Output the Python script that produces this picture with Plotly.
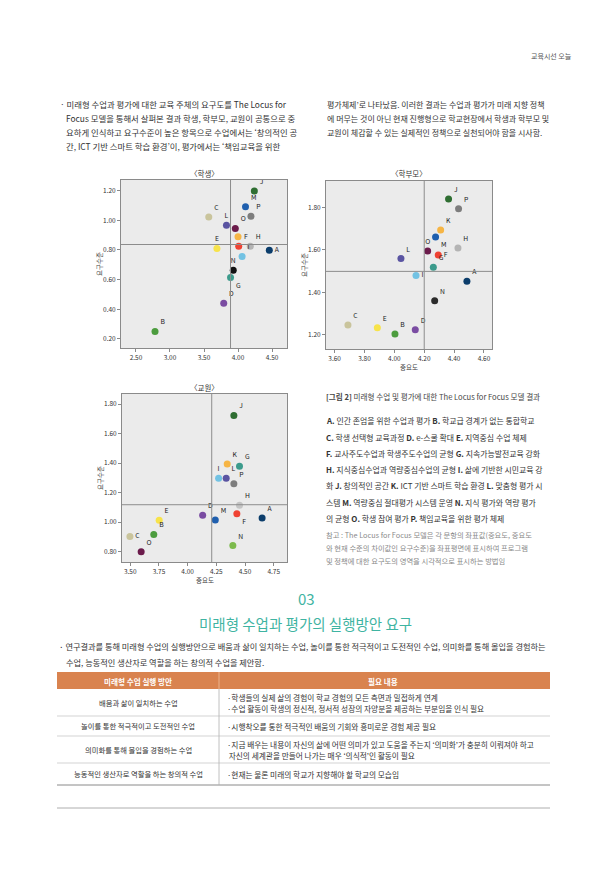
import plotly.graph_objects as go

W, H = 608, 869
FONT = "Noto Sans CJK KR"

# ---------------- data ----------------
labels_s = ["J", "M", "P", "C", "L", "O", "K", "F", "H", "E", "A", "I", "N", "G", "D", "B"]
x_s = [4.24, 4.11, 4.19, 3.57, 3.83, 3.96, 4.00, 4.01, 4.18, 3.69, 4.46, 4.06, 3.93, 3.89, 3.79, 2.78]
y_s = [1.198, 1.092, 1.027, 1.022, 0.966, 0.945, 0.889, 0.826, 0.826, 0.810, 0.799, 0.756, 0.664, 0.614, 0.441, 0.250]
text_s = ["J", "M", "P", "C", "L", "O", "", "F", "H", "E", "A", "I", "N", "G", "D", "B"]
pos_s = ["top right", "top right", "top right", "top right", "top center", "top right", "top right",
         "top right", "top right", "top center", "middle right", "top right", "top center",
         "bottom right", "top right", "top right"]
col_s = ["#2f6e32", "#1f5fae", "#7d7d7d", "#c9c49c", "#5a54a2", "#6b1b4b", "#f6b545", "#ef4233",
         "#b4b4b4", "#f7e34a", "#0b3d6b", "#72c2e3", "#111111", "#3c9b8c", "#7a4ca2", "#4c9c3e"]

labels_p = ["J", "P", "K", "M", "O", "F", "H", "L", "G", "I", "A", "N", "C", "E", "D", "B"]
x_p = [4.363, 4.430, 4.310, 4.276, 4.223, 4.294, 4.426, 4.044, 4.261, 4.145, 4.486, 4.270, 3.689, 3.886, 4.140, 4.004]
y_p = [1.839, 1.794, 1.693, 1.661, 1.595, 1.576, 1.609, 1.559, 1.519, 1.480, 1.452, 1.361, 1.247, 1.234, 1.225, 1.205]
pos_p = ["top right", "top right", "top right", "bottom right", "top center", "middle right", "top right",
         "top right", "top right", "middle right", "top right", "top right", "top right", "top right",
         "top right", "top right"]
col_p = ["#2f6e32", "#7d7d7d", "#f6b545", "#1f5fae", "#6b1b4b", "#ef4233", "#b4b4b4", "#5a54a2",
         "#3c9b8c", "#72c2e3", "#0b3d6b", "#2b2b2b", "#c9c49c", "#f7e34a", "#7a4ca2", "#4c9c3e"]

labels_t = ["J", "K", "G", "I", "L", "P", "H", "D", "F", "M", "A", "E", "B", "C", "N", "O"]
x_t = [4.403, 4.345, 4.452, 4.270, 4.336, 4.403, 4.452, 4.131, 4.429, 4.241, 4.649, 3.752, 3.705, 3.497, 4.394, 3.595]
y_t = [1.723, 1.394, 1.378, 1.297, 1.297, 1.260, 1.114, 1.046, 1.057, 1.014, 1.028, 1.012, 0.917, 0.902, 0.841, 0.800]
pos_t = ["top right", "top right", "top right", "top center", "top right", "top right", "top right",
         "top right", "bottom right", "top right", "top right", "top right", "top right", "middle right",
         "top right", "top right"]
col_t = ["#2f6e32", "#f6b545", "#3c9b8c", "#72c2e3", "#5a54a2", "#7d7d7d", "#c4c4c4", "#7a4ca2",
         "#ef4233", "#1f5fae", "#0b3d6b", "#f7e34a", "#4c9c3e", "#c9c49c", "#7cba4c", "#6b1b4b"]

chart_titles = ["〈학생〉", "〈학부모〉", "〈교원〉"]
ref_x = [3.89, 4.20, 4.21]
ref_y = [0.837, 1.499, 1.118]
x_ticks_s = [2.5, 3.0, 3.5, 4.0, 4.5]
y_ticks_s = [0.2, 0.4, 0.6, 0.8, 1.0, 1.2]
x_ticks_p = [3.6, 3.8, 4.0, 4.2, 4.4, 4.6]
y_ticks_p = [1.2, 1.4, 1.6, 1.8]
x_ticks_t = [3.5, 3.75, 4.0, 4.25, 4.5, 4.75]
y_ticks_t = [0.8, 1.0, 1.2, 1.4, 1.6, 1.8]
x_title = "중요도"
y_title = "요구수준"

header_text = "교육시선 오늘"
top_left_lines = [
    "· 미래형 수업과 평가에 대한 교육 주체의 요구도를 The Locus for",
    "Focus 모델을 통해서 살펴본 결과 학생, 학부모, 교원이 공통으로 중",
    "요하게 인식하고 요구수준이 높은 항목으로 수업에서는 ‘창의적인 공",
    "간, ICT 기반 스마트 학습 환경’이, 평가에서는 ‘책임교육을 위한",
]
top_right_lines = [
    "평가체제’로 나타났음. 이러한 결과는 수업과 평가가 미래 지향 정책",
    "에 머무는 것이 아닌 현재 진행형으로 학교현장에서 학생과 학부모 및",
    "교원이 체감할 수 있는 실제적인 정책으로 실천되어야 함을 시사함.",
]
caption = "<b>[그림 2]</b> 미래형 수업 및 평가에 대한 The Locus for Focus 모델 결과"
legend_lines = [
    "<b>A.</b> 인간 존엄을 위한 수업과 평가 <b>B.</b> 학교급 경계가 없는 통합학교",
    "<b>C.</b> 학생 선택형 교육과정 <b>D.</b> e-스쿨 확대 <b>E.</b> 지역중심 수업 체제",
    "<b>F.</b> 교사주도수업과 학생주도수업의 균형 <b>G.</b> 지속가능발전교육 강화",
    "<b>H.</b> 지식중심수업과 역량중심수업의 균형 <b>I.</b> 삶에 기반한 시민교육 강",
    "화 <b>J.</b> 창의적인 공간 <b>K.</b> ICT 기반 스마트 학습 환경 <b>L.</b> 맞춤형 평가 시",
    "스템 <b>M.</b> 역량중심 절대평가 시스템 운영 <b>N.</b> 지식 평가와 역량 평가",
    "의 균형 <b>O.</b> 학생 참여 평가 <b>P.</b> 책임교육을 위한 평가 체제",
]
note_lines = [
    "참고 : The Locus for Focus 모델은 각 문항의 좌표값(중요도, 중요도",
    "와 현재 수준의 차이값인 요구수준)을 좌표평면에 표시하여 프로그램",
    "및 정책에 대한 요구도의 영역을 시각적으로 표시하는 방법임",
]
section_no = "03"
section_title = "미래형 수업과 평가의 실행방안 요구"
intro_lines = [
    "· 연구결과를 통해 미래형 수업의 실행방안으로 배움과 삶이 일치하는 수업, 놀이를 통한 적극적이고 도전적인 수업, 의미화를 통해 몰입을 경험하는",
    "수업, 능동적인 생산자로 역할을 하는 창의적 수업을 제안함.",
]
table_header = ["미래형 수업 실행 방안", "필요 내용"]
table_left = [
    "배움과 삶이 일치하는 수업",
    "놀이를 통한 적극적이고 도전적인 수업",
    "의미화를 통해 몰입을 경험하는 수업",
    "능동적인 생산자로 역할을 하는 창의적 수업",
]
table_right = [
    ["·학생들의 실제 삶의 경험이 학교 경험의 모든 측면과 밀접하게 연계",
     "·수업 활동이 학생의 정신적, 정서적 성장의 자양분을 제공하는 부분임을 인식 필요"],
    ["·시행착오를 통한 적극적인 배움의 기회와 흥미로운 경험 제공 필요"],
    ["·지금 배우는 내용이 자신의 삶에 어떤 의미가 있고 도움을 주는지 ‘의미화’가 충분히 이뤄져야 하고",
     " 자신의 세계관을 만들어 나가는 매우 ‘의식적’인 활동이 필요"],
    ["·현재는 물론 미래의 학교가 지향해야 할 학교의 모습임"],
]

# ---------------- helpers ----------------
def px(x):
    return x / W


def py(y):
    return 1 - y / H


annotations = []
shapes = []


def txt(x, y, s, size=7.5, color="#333333", xanchor="left", yanchor="middle", angle=0):
    annotations.append(dict(x=px(x), y=py(y), xref="paper", yref="paper", text=s, showarrow=False,
                            xanchor=xanchor, yanchor=yanchor, textangle=angle,
                            font=dict(size=size, color=color, family=FONT)))


def hline(x0, x1, y, color, width=1):
    shapes.append(dict(type="line", xref="paper", yref="paper", x0=px(x0), x1=px(x1), y0=py(y), y1=py(y),
                       line=dict(color=color, width=width)))


def vline(x, y0, y1, color, width=1):
    shapes.append(dict(type="line", xref="paper", yref="paper", x0=px(x), x1=px(x), y0=py(y0), y1=py(y1),
                       line=dict(color=color, width=width)))


fig = go.Figure()

charts = [
    dict(xs=x_s, ys=y_s, text=text_s, pos=pos_s, col=col_s, ax="", box=(121, 287, 180, 348),
         xr=[2.28, 4.72], yr=[0.139, 1.272], xt=x_ticks_s, yt=y_ticks_s, xtitle=False),
    dict(xs=x_p, ys=y_p, text=labels_p, pos=pos_p, col=col_p, ax="2", box=(326, 492, 181, 349),
         xr=[3.542, 4.654], yr=[1.134, 1.924], xt=x_ticks_p, yt=y_ticks_p, xtitle=True),
    dict(xs=x_t, ys=y_t, text=labels_t, pos=pos_t, col=col_t, ax="3", box=(122, 287, 394, 562),
         xr=[3.428, 4.866], yr=[0.730, 1.868], xt=x_ticks_t, yt=y_ticks_t, xtitle=True),
]

layout_axes = {}
for i, c in enumerate(charts):
    a = c["ax"]
    fig.add_trace(go.Scatter(
        x=c["xs"], y=c["ys"], mode="markers+text", text=c["text"], textposition=c["pos"],
        textfont=dict(size=6.8, color="#222222", family=FONT),
        marker=dict(size=7, color=c["col"], line=dict(width=0)),
        xaxis="x" + a, yaxis="y" + a, cliponaxis=False, showlegend=False, hoverinfo="skip"))
    l, r, t, b = c["box"]
    common = dict(showline=True, mirror=True, linecolor="#8a8a8a", linewidth=1, ticks="outside",
                  ticklen=3, tickcolor="#8a8a8a", tickfont=dict(size=6.5, color="#333333", family=FONT),
                  showgrid=False, zeroline=False, tickformat=".2f")
    layout_axes["xaxis" + a] = dict(common, domain=[px(l), px(r)], range=c["xr"], tickvals=c["xt"],
                                    anchor="y" + a)
    layout_axes["yaxis" + a] = dict(common, domain=[py(b), py(t)], range=c["yr"], tickvals=c["yt"],
                                    anchor="x" + a)
    xref = "x" + a
    yref = "y" + a
    shapes.append(dict(type="line", xref=xref, yref=yref + " domain", x0=ref_x[i], x1=ref_x[i], y0=0, y1=1,
                       line=dict(color="#8c8c8c", width=1)))
    shapes.append(dict(type="line", xref=xref + " domain", yref=yref, x0=0, x1=1, y0=ref_y[i], y1=ref_y[i],
                       line=dict(color="#8c8c8c", width=1)))
    # chart title
    txt((l + r) / 2, t - 7, chart_titles[i], size=7.5, color="#333333", xanchor="center")
    # axis titles
    txt(l - 22, (t + b) / 2, y_title, size=6.5, color="#444444", xanchor="center", angle=-90)
    if c["xtitle"]:
        txt((l + r) / 2, b + 18, x_title, size=6.5, color="#444444", xanchor="center")

# header
txt(551, 56, header_text, size=7, color="#555555", xanchor="center")

# top paragraphs
for k, s in enumerate(top_left_lines):
    txt(58 if k == 0 else 64, 104 + 14 * k, s, size=8.4)
for k, s in enumerate(top_right_lines):
    txt(325, 104 + 14 * k, s, size=8.0)

# caption and legend
txt(324, 397, caption, size=7.6, color="#444444")
for k, s in enumerate(legend_lines):
    txt(324, 421 + 16.2 * k, s, size=7.9, color="#333333")
for k, s in enumerate(note_lines):
    txt(324, 535 + 13 * k, s, size=7.3, color="#8a8a8a")

# section
TEAL = "#3fb4a2"
txt(306, 598, section_no, size=15, color=TEAL, xanchor="center")
txt(305, 623, section_title, size=14.5, color=TEAL, xanchor="center")
txt(57, 646, intro_lines[0], size=8.2)
txt(64, 662, intro_lines[1], size=8.2)

# table
shapes.append(dict(type="rect", xref="paper", yref="paper", x0=px(57), x1=px(550), y0=py(689), y1=py(672),
                   fillcolor="#d9834f", line=dict(width=0)))
vline(219, 672, 689, "#f0c0a0", 0.8)
txt(138, 681, "<b>" + table_header[0] + "</b>", size=7.6, color="white", xanchor="center")
txt(383, 681, "<b>" + table_header[1] + "</b>", size=7.6, color="white", xanchor="center")
row_lines = [689, 716, 736, 763, 785]
for k in range(1, 4):
    hline(57, 550, row_lines[k], "#c8c8c8", 0.8)
hline(57, 550, row_lines[4], "#8a8a8a", 1)
vline(219, 689, 785, "#b0b0b0", 0.8)
for k, s in enumerate(table_left):
    yc = (row_lines[k] + row_lines[k + 1]) / 2
    txt(138, yc, s, size=7.3, color="#333333", xanchor="center")
    lines = table_right[k]
    n = len(lines)
    for j, t in enumerate(lines):
        yy = yc + (j - (n - 1) / 2) * 11
        txt(225, yy, t, size=7.7, color="#333333")

# bottom rule
hline(57, 550, 808, "#9a9a9a", 0.8)

fig.update_layout(width=W, height=H, margin=dict(l=0, r=0, t=0, b=0), paper_bgcolor="white",
                  plot_bgcolor="#ebebeb", annotations=annotations, shapes=shapes,
                  font=dict(family=FONT), **layout_axes)
fig.write_html("out.html", config={"displayModeBar": False},
               post_script="document.body.style.margin='0px';document.body.style.overflow='hidden';")
